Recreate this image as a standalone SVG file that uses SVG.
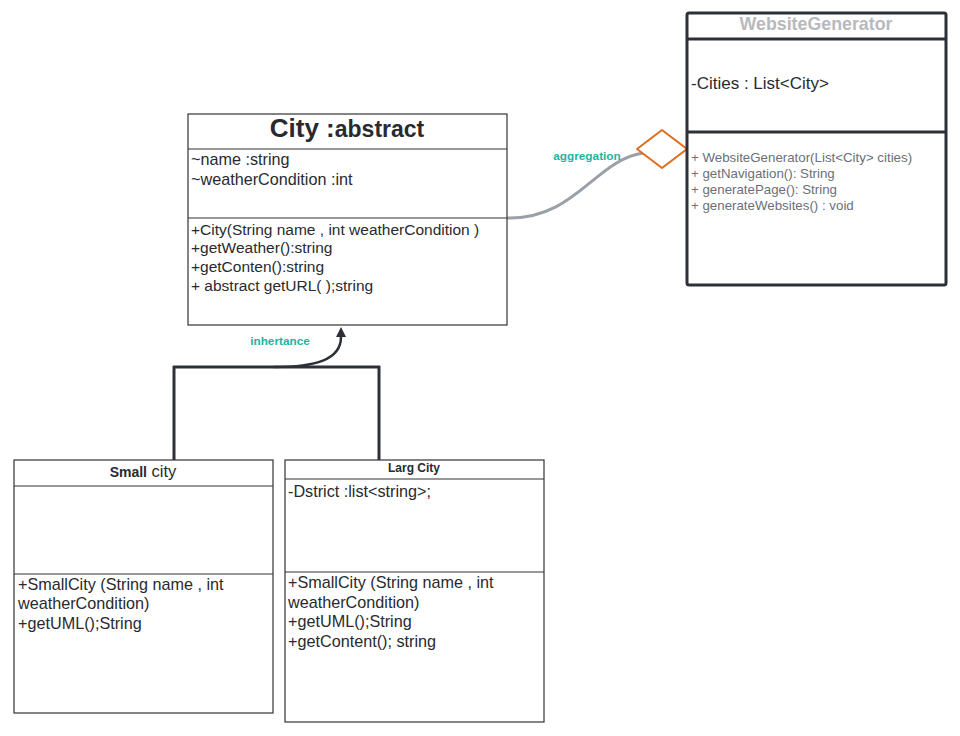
<svg xmlns="http://www.w3.org/2000/svg" width="960" height="736" viewBox="0 0 960 736">
<defs>
<style>
text{font-family:"Liberation Sans",Arial,sans-serif;fill:#282a30}
.box{fill:#fff;stroke:#333;stroke-width:1.2}
.div{stroke:#333;stroke-width:1.2}
.t15{font-size:15.5px}
.t16{font-size:16.2px}
.g{fill:#6b6f78;font-size:13.3px}
.lbl{fill:#1fb3a0;font-size:11.8px;font-weight:bold}
.inh{stroke:#2d3038;stroke-width:3;fill:none}
</style>
</defs>
<rect width="960" height="736" fill="#fff"/>

<g id="connectors">
<path d="M507,218 C575,220 595,160 643,153" fill="none" stroke="#9aa0a8" stroke-width="3"/>
<polygon points="637,149 662,130 687,149 662,168" fill="#fff" stroke="#e06c1c" stroke-width="2" stroke-linejoin="round"/>
<text class="lbl" x="587" y="160" text-anchor="middle">aggregation</text>
<line class="inh" x1="173" y1="367" x2="380" y2="367"/>
<line class="inh" x1="174" y1="366" x2="174" y2="460"/>
<line class="inh" x1="379" y1="366" x2="379" y2="460"/>
<path class="inh" d="M274,367 C315,367 341,360 341,337" style="stroke-width:2.5"/>
<path d="M336,337 L341,327 L346,337 Z" fill="#2d3038"/>
<text class="lbl" x="280" y="345" text-anchor="middle">inhertance</text>
</g>

<g id="website-generator">
<rect x="687" y="13" width="259" height="272" rx="2" fill="#fff" stroke="#2d3038" stroke-width="3"/>
<line x1="687" y1="39" x2="946" y2="39" stroke="#2d3038" stroke-width="3"/>
<line x1="687" y1="132" x2="946" y2="132" stroke="#2d3038" stroke-width="3"/>
<text x="816" y="30" text-anchor="middle" font-size="17.8" font-weight="bold" style="fill:#b8b9bd">WebsiteGenerator</text>
<text x="691" y="89" font-size="17">-Cities : List&lt;City&gt;</text>
<text class="g" x="691" y="162">+ WebsiteGenerator(List&lt;City&gt; cities)</text>
<text class="g" x="691" y="178">+ getNavigation(): String</text>
<text class="g" x="691" y="194">+ generatePage(): String</text>
<text class="g" x="691" y="210">+ generateWebsites() : void</text>
</g>

<g id="city">
<rect class="box" x="188" y="114" width="319" height="211"/>
<line class="div" x1="188" y1="149" x2="507" y2="149"/>
<line class="div" x1="188" y1="218" x2="507" y2="218"/>
<text x="347" y="137" text-anchor="middle" font-weight="bold"><tspan font-size="26">City :</tspan><tspan font-size="23">abstract</tspan></text>
<text class="t16" x="191" y="165">~name :string</text>
<text class="t16" x="191" y="185">~weatherCondition :int</text>
<text class="t15" x="191" y="235">+City(String name , int weatherCondition )</text>
<text class="t15" x="191" y="253">+getWeather():string</text>
<text class="t15" x="191" y="272">+getConten():string</text>
<text class="t15" x="191" y="291">+ abstract getURL( );string</text>
</g>

<g id="small-city">
<rect class="box" x="14" y="460" width="259" height="253"/>
<line class="div" x1="14" y1="486" x2="273" y2="486"/>
<line class="div" x1="14" y1="574" x2="273" y2="574"/>
<text x="143" y="477" text-anchor="middle"><tspan font-size="14" font-weight="bold">Small</tspan><tspan font-size="16.5"> city</tspan></text>
<text class="t16" x="18" y="590">+SmallCity (String name , int</text>
<text class="t16" x="18" y="609">weatherCondition)</text>
<text class="t16" x="18" y="629">+getUML();String</text>
</g>

<g id="larg-city">
<rect class="box" x="285" y="460" width="259" height="262"/>
<line class="div" x1="285" y1="479" x2="544" y2="479"/>
<line class="div" x1="285" y1="572" x2="544" y2="572"/>
<text x="414" y="472" text-anchor="middle" font-size="12" font-weight="bold">Larg City</text>
<text class="t16" x="288" y="497">-Dstrict :list&lt;string&gt;;</text>
<text class="t16" x="288" y="588">+SmallCity (String name , int</text>
<text class="t16" x="288" y="608">weatherCondition)</text>
<text class="t16" x="288" y="627">+getUML();String</text>
<text class="t16" x="288" y="647">+getContent(); string</text>
</g>
</svg>
